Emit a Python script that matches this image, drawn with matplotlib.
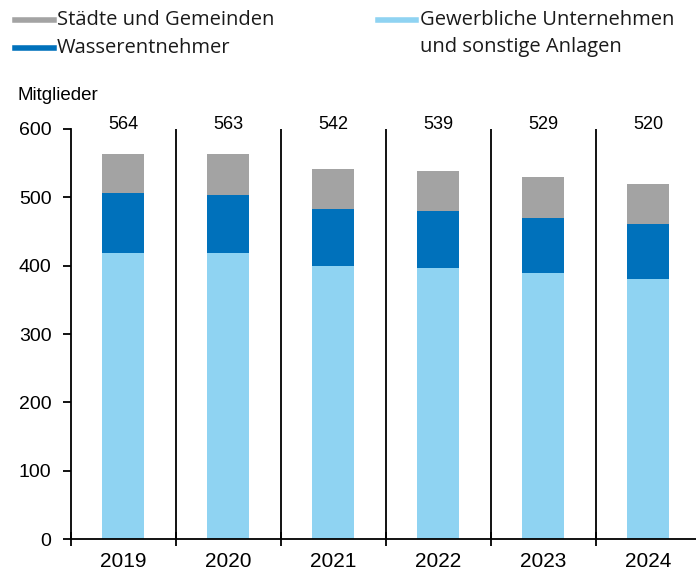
import numpy as np
import matplotlib
matplotlib.use('Agg')
import matplotlib.pyplot as plt
from matplotlib.lines import Line2D

years = ['2019', '2020', '2021', '2022', '2023', '2024']
gewerbliche = [419, 418, 400, 397, 390, 381]
wasserentnehmer = [87, 86, 83, 83, 80, 80]
staedte = [58, 59, 59, 59, 59, 59]
totals = [564, 563, 542, 539, 529, 520]

series_labels = ['Städte und Gemeinden', 'Wasserentnehmer',
                 'Gewerbliche Unternehmen\nund sonstige Anlagen']
c_grey = '#a3a3a3'
c_blue = '#0071bb'
c_light = '#8fd3f2'

plt.rcParams['font.family'] = ['Liberation Sans', 'DejaVu Sans']

fig = plt.figure(figsize=(6.96, 5.73), dpi=100)
ax = fig.add_axes([0.102, 0.059, 0.905, 0.716])

x = np.arange(len(years)) + 0.5
w = 0.4
bottom2 = np.array(gewerbliche)
bottom3 = bottom2 + np.array(wasserentnehmer)
ax.bar(x, gewerbliche, w, color=c_light)
ax.bar(x, wasserentnehmer, w, bottom=bottom2, color=c_blue)
ax.bar(x, staedte, w, bottom=bottom3, color=c_grey)

for xi, t in zip(x, totals):
    ax.text(xi, 607, str(t), ha='center', va='center', fontsize=13, clip_on=False)

# dividers between years
for b in range(1, len(years)):
    ax.axvline(b, ymin=0, ymax=1, color='black', lw=1.3)

ax.set_xlim(0, len(years))
ax.set_ylim(0, 600)
ax.set_yticks(range(0, 601, 100))
ax.set_xticks(x)
ax.set_xticklabels(years)
ax.set_xticks(np.arange(len(years) + 1), minor=True)
ax.tick_params(axis='x', which='major', length=0, labelsize=15, pad=9)
ax.tick_params(axis='x', which='minor', length=10, direction='inout', width=1.3)
ax.tick_params(axis='y', labelsize=14, length=6, width=1.3, pad=8)
for s in ['top', 'right']:
    ax.spines[s].set_visible(False)
for s in ['left', 'bottom']:
    ax.spines[s].set_linewidth(1.3)

fig.text(0.025, 0.834, 'Mitglieder', fontsize=13.5, va='center')

# legend drawn by hand
leg_font = ['Open Sans', 'DejaVu Sans']
items = [(0.022, 0.965, c_grey, series_labels[0]),
         (0.022, 0.916, c_blue, series_labels[1]),
         (0.543, 0.965, c_light, series_labels[2])]
for lx, ly, col, lab in items:
    fig.add_artist(Line2D([lx, lx + 0.055], [ly, ly], color=col, lw=4,
                          transform=fig.transFigure))
    if '\n' in lab:
        fig.text(lx + 0.06, ly + 0.017, lab, fontsize=14.5, va='top',
                 family=leg_font, linespacing=1.45, color='#1a1a1a')
    else:
        fig.text(lx + 0.06, ly, lab, fontsize=14.5, va='center',
                 family=leg_font, color='#1a1a1a')

fig.savefig('out.png', dpi=100)
